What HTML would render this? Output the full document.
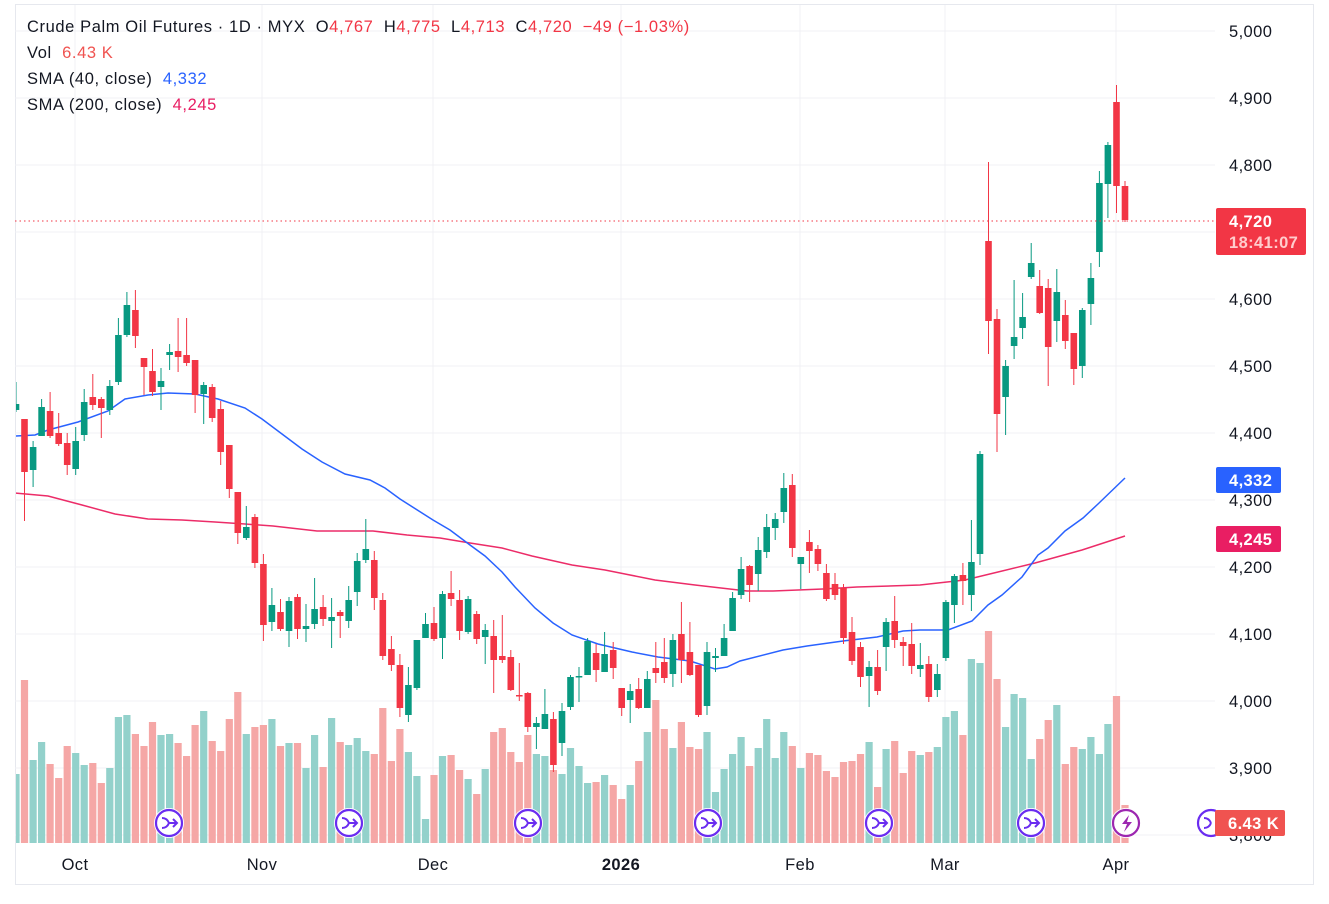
<!DOCTYPE html>
<html><head><meta charset="utf-8">
<style>
html,body{margin:0;padding:0;background:#fff;width:1329px;height:904px;overflow:hidden}
svg{display:block}
text{font-family:"Liberation Sans","DejaVu Sans",sans-serif}
</style></head>
<body>
<svg id="c" width="1329" height="904" xmlns="http://www.w3.org/2000/svg"></svg>
<script>
const C=[[410,404,382,412],[419,472,419,521],[470,447,441,487],[436,407,399,436],[411,436,392,438],[433,444,413,446],[443,465,433,475],[469,441,427,475],[435,402,389,441],[397,405,374,410],[399,408,397,438],[410,386,380,415],[382,335,318,385],[335,305,292,337],[310,336,290,348],[358,367,358,395],[371,392,349,396],[387,381,368,410],[355,352,344,370],[351,357,318,372],[355,363,318,366],[360,395,360,413],[394,385,382,424],[387,418,384,422],[409,452,401,465],[445,489,445,498],[492,533,492,544],[538,527,506,540],[517,563,514,568],[564,625,554,641],[622,605,588,631],[612,629,599,631],[631,601,597,647],[597,629,594,639],[629,626,604,642],[624,609,578,629],[607,619,595,626],[621,617,598,648],[612,616,610,638],[621,600,586,628],[592,561,553,606],[560,549,519,563],[560,598,551,610],[600,656,593,660],[649,665,636,671],[665,708,654,717],[715,685,667,722],[688,640,640,690],[638,624,613,638],[623,639,607,641],[638,594,591,659],[593,599,571,606],[600,631,590,640],[632,599,596,634],[614,639,611,644],[637,630,624,664],[636,660,620,693],[656,660,615,663],[657,690,650,691],[695,696,663,701],[693,727,692,732],[727,723,717,749],[729,714,689,729],[719,765,712,772],[743,711,703,756],[707,677,675,710],[677,676,667,702],[675,641,638,675],[653,670,644,682],[672,654,632,672],[650,668,642,679],[688,708,688,716],[700,691,684,723],[689,708,678,709],[708,679,671,708],[668,673,642,683],[662,678,638,683],[674,640,634,687],[634,660,602,683],[652,675,622,676],[665,715,665,717],[706,652,642,715],[658,656,648,672],[656,638,624,656],[631,598,592,631],[595,569,557,599],[566,585,565,602],[574,550,537,591],[552,527,514,558],[528,519,513,540],[512,488,473,523],[485,548,474,557],[564,557,557,589],[542,551,530,573],[549,564,545,571],[573,599,564,601],[584,595,573,600],[588,638,584,644],[632,661,617,665],[647,677,642,687],[676,667,661,707],[667,691,650,695],[647,622,618,671],[621,640,596,648],[642,646,637,666],[644,666,623,674],[669,665,643,677],[664,697,656,702],[690,674,664,697],[658,602,600,661],[605,576,574,623],[575,581,563,605],[595,562,520,611],[554,454,451,565],[241,321,162,354],[319,414,309,452],[397,366,360,435],[346,337,280,359],[328,317,293,339],[277,263,243,279],[286,313,270,314],[288,347,279,386],[321,292,269,342],[315,341,300,349],[333,369,333,385],[366,310,308,378],[304,278,263,325],[252,183,171,267],[184,145,142,218],[102,186,85,213],[186,220,181,222]];
const V=[774,680,760,742,764,778,746,753,765,763,783,768,717,715,734,746,722,735,734,743,756,725,711,741,751,719,692,734,727,725,719,746,743,743,768,735,767,718,742,745,738,751,754,708,761,729,752,776,819,775,756,755,770,779,794,769,732,728,752,762,735,754,756,770,774,748,766,783,782,775,785,799,785,761,732,700,729,748,722,747,749,732,792,769,754,737,766,748,719,758,732,746,768,753,755,771,777,762,761,754,742,787,749,741,773,751,755,752,747,717,711,735,659,663,631,679,727,694,698,759,739,720,705,764,747,749,737,754,724,696,805];
const blue=[[15,436],[35,435],[48,430],[78,422],[108,411],[125,399],[148,395],[168,393],[195,394],[218,399],[245,408],[262,419],[282,434],[302,449],[322,462],[345,474],[370,480],[385,488],[400,499],[433,520],[450,530],[470,545],[485,556],[502,572],[515,587],[535,608],[553,623],[572,635],[598,644],[632,652],[658,657],[690,661],[715,669],[727,667],[740,661],[783,650],[807,646],[843,641],[877,637],[903,631],[920,630],[948,630],[972,621],[988,605],[1002,595],[1022,577],[1038,555],[1048,548],[1065,531],[1083,518],[1098,504],[1125,478]];
const red=[[15,493],[48,496],[82,505],[115,514],[148,519],[182,520],[215,522],[245,524],[273,526],[317,531],[373,531],[407,535],[440,538],[470,543],[502,548],[532,556],[572,565],[605,570],[625,574],[655,580],[695,585],[747,591],[773,591],[823,589],[857,587],[920,585],[965,580],[998,572],[1035,563],[1082,550],[1125,536]];
let s='';
const L=15,R=1215;
s+=`<defs><clipPath id="cl"><rect x="16" y="5" width="1199" height="838"/></clipPath></defs>`;
s+=`<rect x="15.5" y="4.5" width="1298" height="880" fill="#fff" stroke="#e6e8ee"/>`;
for(let p=5000;p>=3800;p-=100){const y=31+(5000-p)*0.67;s+=`<line x1="${L}" x2="${R}" y1="${y}" y2="${y}" stroke="#f0f1f4"/>`;}
[75,262,433,621,800,945,1116].forEach(x=>{s+=`<line x1="${x}" x2="${x}" y1="5" y2="843" stroke="#f0f1f4"/>`;});
let g='';
const sp=1109/130;
C.forEach((c,i)=>{const x=16+i*sp;const up=c[1]<c[0];const t=V[i]||800;
 g+=`<rect x="${(x-3.6).toFixed(1)}" y="${t}" width="7.2" height="${843-t}" fill="${up?'#93d1cb':'#f5a7a6'}"/>`;});
const pl=a=>a.map(p=>p.join(',')).join(' ');
g+=`<polyline points="${pl(red)}" fill="none" stroke="#ec2c68" stroke-width="1.5"/>`;
g+=`<polyline points="${pl(blue)}" fill="none" stroke="#2962ff" stroke-width="1.5"/>`;
C.forEach((c,i)=>{const x=16+i*sp;const up=c[1]<c[0];const col=up?'#089981':'#f23645';
 const top=Math.min(c[0],c[1]),bot=Math.max(c[0],c[1]);
 g+=`<line x1="${x.toFixed(1)}" x2="${x.toFixed(1)}" y1="${c[2]}" y2="${c[3]}" stroke="${col}" stroke-width="1"/>`;
 g+=`<rect x="${(x-3.3).toFixed(1)}" y="${top}" width="6.6" height="${Math.max(1.5,bot-top)}" fill="${col}"/>`;});
s+=`<g clip-path="url(#cl)">${g}</g>`;
s+=`<line x1="${L}" x2="${R}" y1="221" y2="221" stroke="#f23645" stroke-dasharray="1.5,3" stroke-width="1"/>`;
[169,349,528,708,879,1031].forEach(x=>{s+=`<circle cx="${x}" cy="823" r="15" fill="#fff"/><circle cx="${x}" cy="823" r="13" fill="#fff" stroke="#6a2cf0" stroke-width="2.2"/><path d="M${x-7},${818} q5,0 7,5 M${x-7},${828} q5,0 7,-5 M${x},${823} h7 M${x+4},${819} l4,4 l-4,4" fill="none" stroke="#6a2cf0" stroke-width="2"/>`;});
s+=`<circle cx="1126" cy="823" r="15" fill="#fff"/><circle cx="1126" cy="823" r="13" fill="#fff" stroke="#9c27b0" stroke-width="2.2"/><path d="M1129,815 l-7,9 h5 l-3,8 l8,-10 h-5 z" fill="#9c27b0"/>`;
s+=`<circle cx="1211" cy="823" r="13" fill="#fff" stroke="#6a2cf0" stroke-width="2.2"/><path d="M1204,818 q5,0 7,5 M1204,828 q5,0 7,-5" fill="none" stroke="#6a2cf0" stroke-width="2"/>`;
s+=`<rect x="1216" y="5" width="97" height="879" fill="#fff"/>`;
const AX='font-size="16.5" letter-spacing="0.4"';
for(let p=5000;p>=3800;p-=100){const y=31+(5000-p)*0.67;s+=`<text x="1229" y="${y+6}" ${AX} fill="#131722">${p.toString().replace(/(\d)(\d{3})$/,'$1,$2')}</text>`;}
s+=`<rect x="1216" y="208" width="90" height="47" rx="2" fill="#f23645"/><text x="1229" y="227" ${AX} fill="#fff" font-weight="bold">4,720</text><text x="1229" y="248" ${AX} fill="#fcc" font-weight="bold">18:41:07</text>`;
s+=`<rect x="1216" y="467" width="65" height="26" rx="2" fill="#2962ff"/><text x="1229" y="486" ${AX} fill="#fff" font-weight="bold">4,332</text>`;
s+=`<rect x="1216" y="526" width="65" height="26" rx="2" fill="#e91e63"/><text x="1229" y="545" ${AX} fill="#fff" font-weight="bold">4,245</text>`;
s+=`<rect x="1215" y="810" width="70" height="26" rx="2" fill="#f05350"/><text x="1228" y="829" ${AX} fill="#fff" font-weight="bold">6.43 K</text>`;
[[75,'Oct'],[262,'Nov'],[433,'Dec'],[621,'2026'],[800,'Feb'],[945,'Mar'],[1116,'Apr']].forEach(([x,t])=>{s+=`<text x="${x}" y="870" ${AX} fill="#131722" text-anchor="middle" ${t=='2026'?'font-weight="bold"':''}>${t}</text>`;});
const LG='font-size="16.5" letter-spacing="0.6"';
s+=`<text x="27" y="32" ${LG} fill="#131722">Crude Palm Oil Futures · 1D · MYX <tspan>&#160;O</tspan><tspan fill="#f23645">4,767</tspan><tspan>&#160; H</tspan><tspan fill="#f23645">4,775</tspan><tspan>&#160; L</tspan><tspan fill="#f23645">4,713</tspan><tspan>&#160; C</tspan><tspan fill="#f23645">4,720 &#160;−49 (−1.03%)</tspan></text>`;
s+=`<text x="27" y="58" ${LG} fill="#131722">Vol <tspan fill="#f05350">&#160;6.43 K</tspan></text>`;
s+=`<text x="27" y="84" ${LG} fill="#131722">SMA (40, close) <tspan fill="#2962ff">&#160;4,332</tspan></text>`;
s+=`<text x="27" y="110" ${LG} fill="#131722">SMA (200, close) <tspan fill="#e91e63">&#160;4,245</tspan></text>`;
document.getElementById('c').innerHTML=s;
</script>
</body></html>
